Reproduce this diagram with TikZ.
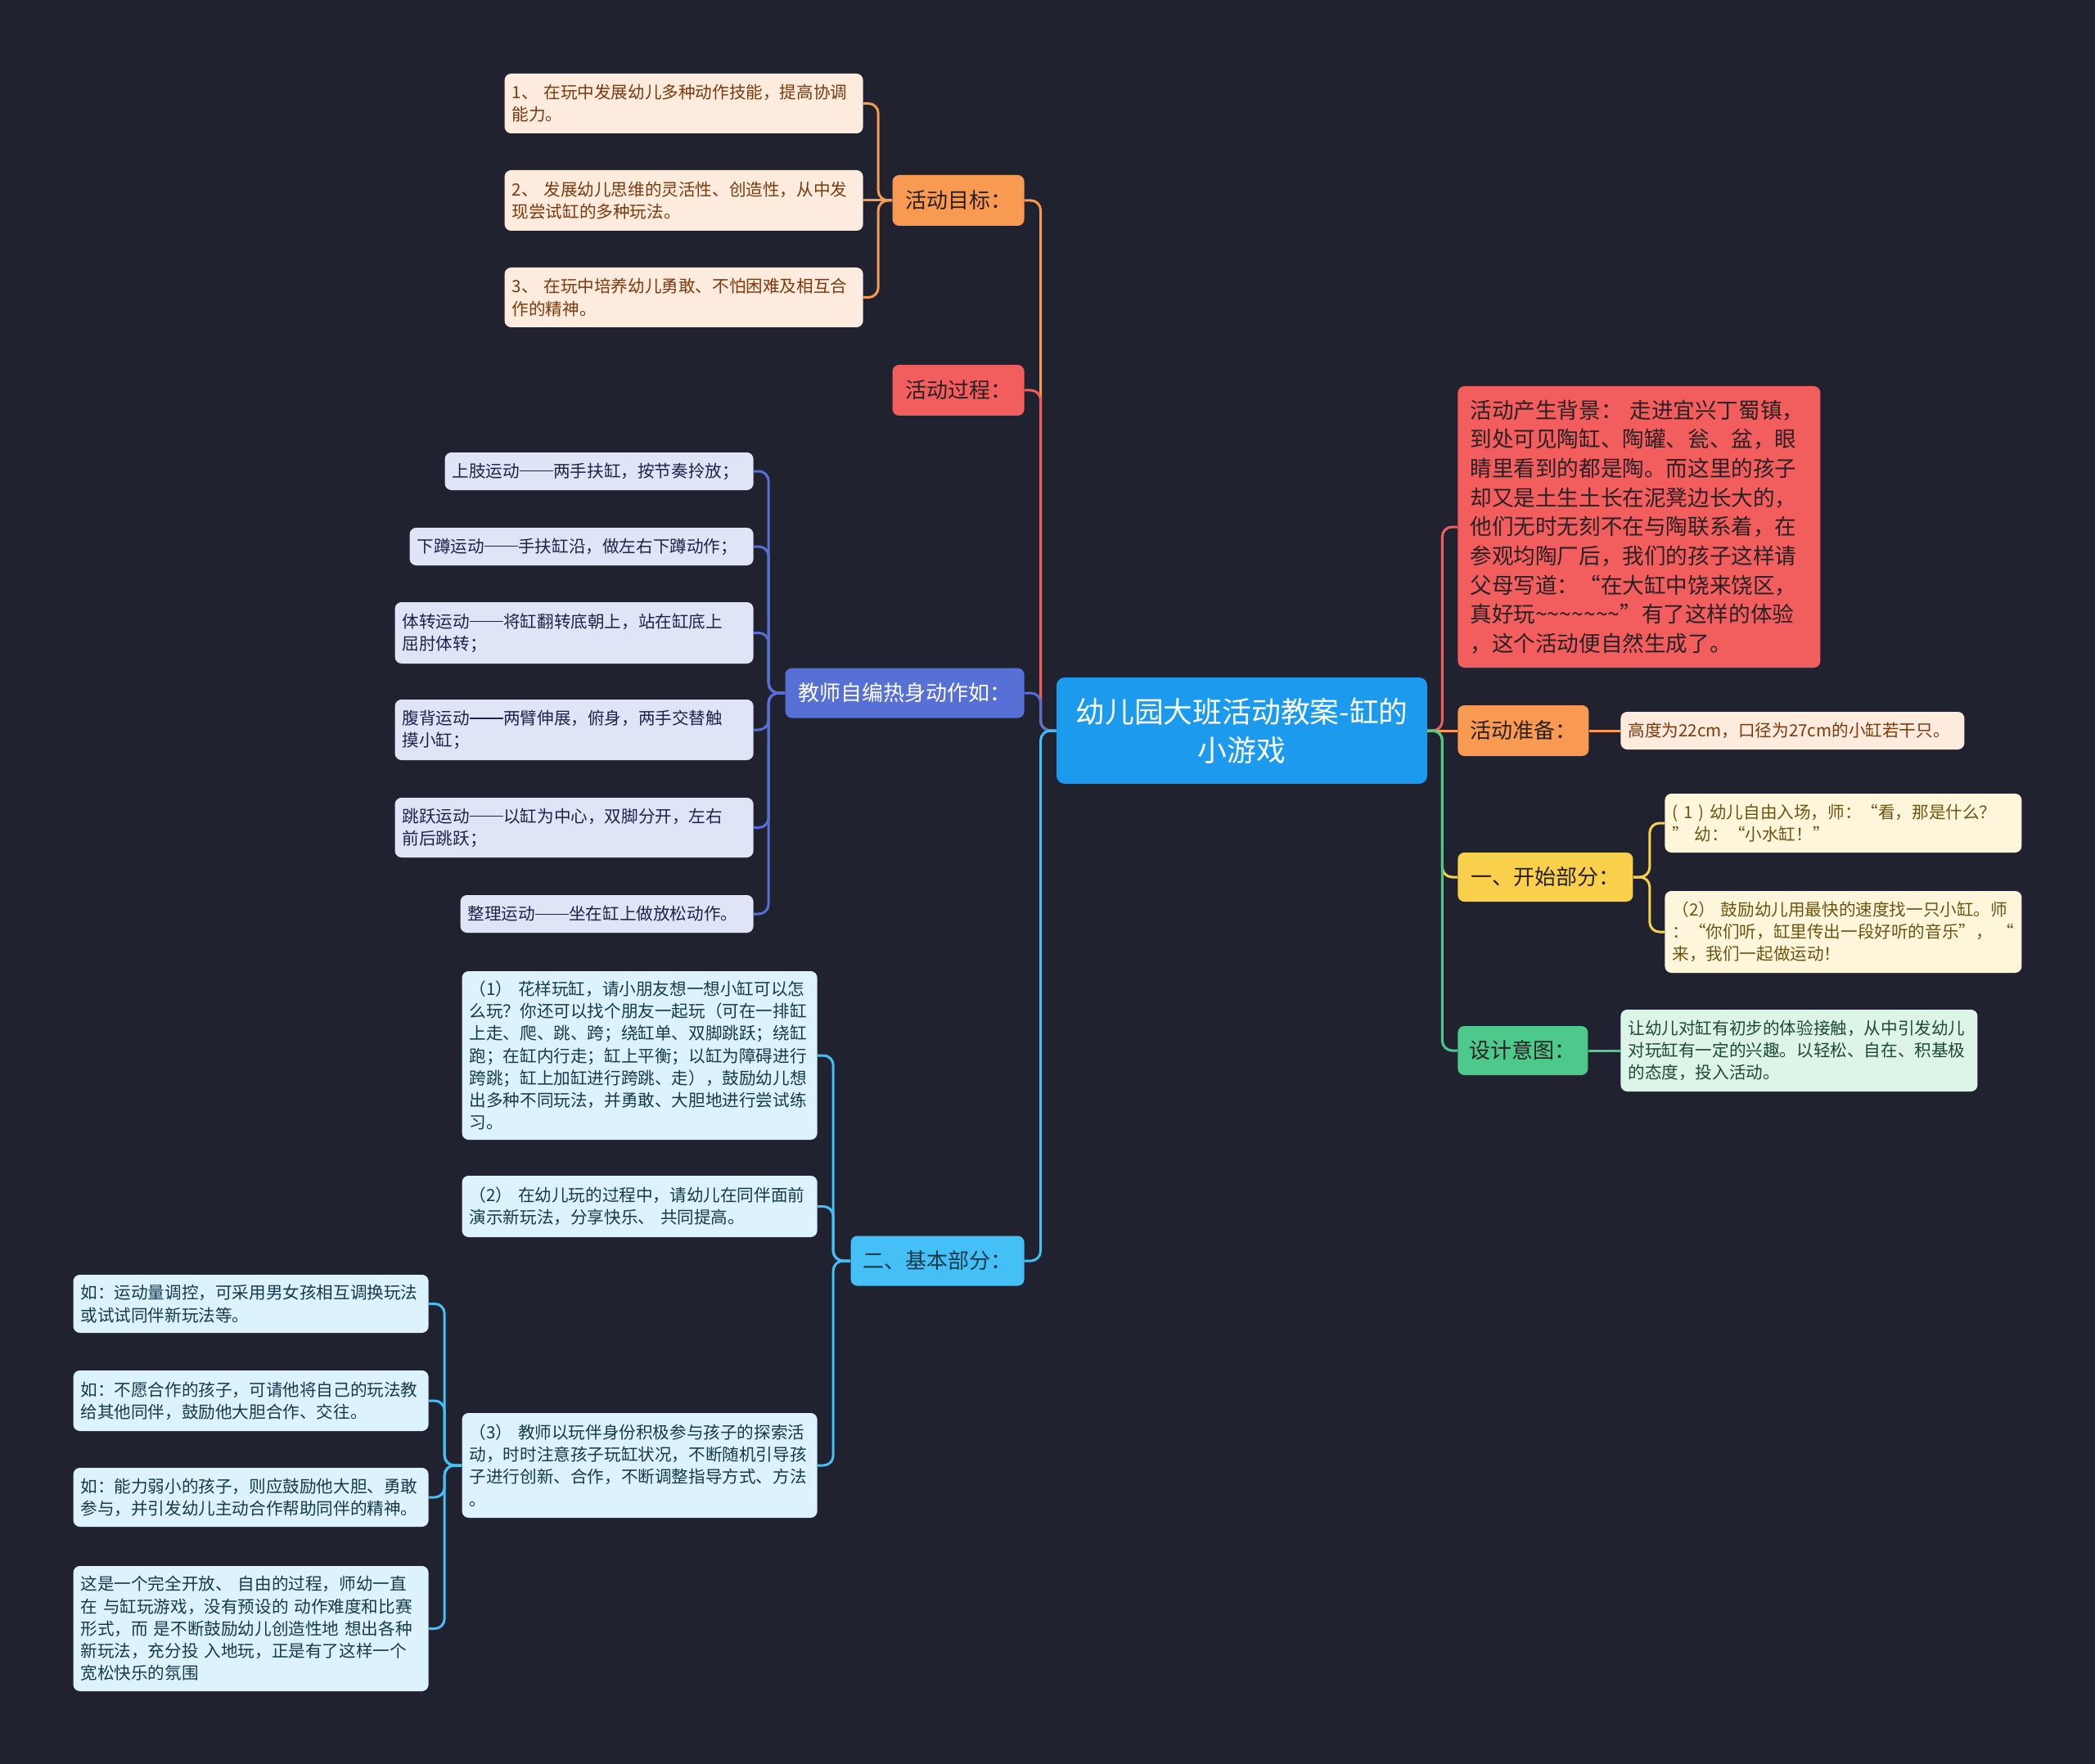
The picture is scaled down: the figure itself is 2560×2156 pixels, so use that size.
\documentclass[tikz,border=0pt]{standalone}
\usepackage{fontspec}
\newfontfamily\cjk{Noto Sans CJK SC}
\usetikzlibrary{positioning,calc}

\definecolor{bgdark}{HTML}{20232F}
\definecolor{rootblue}{HTML}{1B9AEE}
\definecolor{orangeb}{HTML}{F99A52}
\definecolor{redb}{HTML}{F25E5E}
\definecolor{violetb}{HTML}{5670D6}
\definecolor{skyb}{HTML}{45C0F7}
\definecolor{yellowb}{HTML}{F8D04B}
\definecolor{greenb}{HTML}{4DCA8B}
\definecolor{darktext}{HTML}{2A2024}
\definecolor{peachfill}{HTML}{FDEBDD}
\definecolor{peachtext}{HTML}{7A3A0E}
\definecolor{lilacfill}{HTML}{E0E4F7}
\definecolor{lilactext}{HTML}{1F2348}
\definecolor{icefill}{HTML}{DCF3FD}
\definecolor{icetext}{HTML}{163A4B}
\definecolor{creamfill}{HTML}{FEF6DB}
\definecolor{creamtext}{HTML}{6B5512}
\definecolor{mintfill}{HTML}{DDF5E8}
\definecolor{minttext}{HTML}{1D4A33}

% full-width double dash
\newcommand\longdash{\rule[0.33em]{2em}{0.06em}}

\begin{document}
\begin{tikzpicture}[
  x=0.5pt, y=-0.5pt,
  font=\cjk,
  branch/.style={rounded corners=4pt, align=center, inner sep=0pt, text=darktext, font=\cjk\fontsize{13}{17}\selectfont},
  leaf/.style={rounded corners=4pt, align=left, inner xsep=4.5pt, inner ysep=0pt, font=\cjk\fontsize{10.3}{13.6}\selectfont},
  goalleaf/.style={leaf, fill=peachfill, text=peachtext},
  warmleaf/.style={leaf, fill=lilacfill, text=lilactext},
  basicleaf/.style={leaf, fill=icefill, text=icetext},
  startleaf/.style={leaf, fill=creamfill, text=creamtext},
  designleaf/.style={leaf, fill=mintfill, text=minttext},
  link/.style={line width=1.5pt, rounded corners=6pt}
]
\fill[bgdark] (0,0) rectangle (2560,2156);

% centre
\node[fill=rootblue, text=white, rounded corners=5pt, align=center, minimum width=226.5pt, minimum height=65pt, inner sep=0pt, font=\cjk\fontsize{17.9}{23.5}\selectfont] (root) at (1517.5,893) {幼儿园大班活动教案-缸的\\小游戏};

% left branches
\node[branch, fill=orangeb, minimum width=80.5pt, minimum height=31pt, anchor=east] (goals) at (1252,245) {活动目标：};
\node[branch, fill=redb, minimum width=80.5pt, minimum height=31pt, anchor=east] (process) at (1252,477) {活动过程：};
\node[branch, fill=violetb, text=white, minimum width=146pt, minimum height=30.5pt, anchor=east] (warmup) at (1252,847) {教师自编热身动作如：};
\node[branch, fill=skyb, text=icetext, minimum width=106pt, minimum height=30.5pt, anchor=east] (basic) at (1252,1541) {二、基本部分：};

% right branches
\node[rounded corners=4pt, fill=redb, text=darktext, align=left, inner xsep=7.5pt, inner ysep=0pt, text width=206.5pt, minimum height=172pt, anchor=west, font=\cjk\fontsize{13.3}{17.85}\selectfont] (backgr) at (1781,644) {活动产生背景：~走进宜兴丁蜀镇，\\到处可见陶缸、陶罐、瓮、盆，眼\\睛里看到的都是陶。而这里的孩子\\却又是土生土长在泥凳边长大的，\\他们无时无刻不在与陶联系着，在\\参观均陶厂后，我们的孩子这样请\\父母写道：“在大缸中饶来饶区，\\真好玩\textasciitilde\textasciitilde\textasciitilde\textasciitilde\textasciitilde\textasciitilde\textasciitilde”有了这样的体验\\，这个活动便自然生成了。};
\node[branch, fill=orangeb, minimum width=80pt, minimum height=31pt, anchor=west] (prep) at (1781,893) {活动准备：};
\node[branch, fill=yellowb, minimum width=107pt, minimum height=30pt, anchor=west] (start) at (1781,1072) {一、开始部分：};
\node[branch, fill=greenb, minimum width=79.5pt, minimum height=30pt, anchor=west] (design) at (1781,1284) {设计意图：};

% goals
\node[goalleaf, text width=210pt, minimum height=36.5pt, anchor=east] (g1) at (1055,126.5) {1、~在玩中发展幼儿多种动作技能，提高协调\\能力。};
\node[goalleaf, text width=210pt, minimum height=37pt, anchor=east] (g2) at (1055,245) {2、~发展幼儿思维的灵活性、创造性，从中发\\现尝试缸的多种玩法。};
\node[goalleaf, text width=210pt, minimum height=36.5pt, anchor=east] (g3) at (1055,363.5) {3、~在玩中培养幼儿勇敢、不怕困难及相互合\\作的精神。};

% warm-up
\node[warmleaf, text width=179.5pt, minimum height=23pt, anchor=east] (w1) at (921,576) {上肢运动\longdash 两手扶缸，按节奏拎放；};
\node[warmleaf, text width=201pt, minimum height=23pt, anchor=east] (w2) at (921,668) {下蹲运动\longdash 手扶缸沿，做左右下蹲动作；};
\node[warmleaf, text width=210pt, minimum height=37.5pt, anchor=east] (w3) at (921,773.5) {体转运动\longdash 将缸翻转底朝上，站在缸底上\\屈肘体转；};
\node[warmleaf, text width=210pt, minimum height=37pt, anchor=east] (w4) at (921,892) {腹背运动\longdash 两臂伸展，俯身，两手交替触\\摸小缸；};
\node[warmleaf, text width=210pt, minimum height=36.5pt, anchor=east] (w5) at (921,1011.5) {跳跃运动\longdash 以缸为中心，双脚分开，左右\\前后跳跃；};
\node[warmleaf, text width=170pt, minimum height=23pt, anchor=east] (w6) at (921,1117) {整理运动\longdash 坐在缸上做放松动作。};

% basic part
\node[basicleaf, text width=208pt, minimum height=103pt, anchor=east] (b1) at (999,1290) {（1）~花样玩缸，请小朋友想一想小缸可以怎\\么玩？你还可以找个朋友一起玩（可在一排缸\\上走、爬、跳、跨；绕缸单、双脚跳跃；绕缸\\跑；在缸内行走；缸上平衡；以缸为障碍进行\\跨跳；缸上加缸进行跨跳、走），鼓励幼儿想\\出多种不同玩法，并勇敢、大胆地进行尝试练\\习。};
\node[basicleaf, text width=208pt, minimum height=37.5pt, anchor=east] (b2) at (999,1474.5) {（2）~在幼儿玩的过程中，请幼儿在同伴面前\\演示新玩法，分享快乐、~共同提高。};
\node[basicleaf, text width=208pt, minimum height=64pt, anchor=east] (b3) at (999,1791) {（3）~教师以玩伴身份积极参与孩子的探索活\\动，时时注意孩子玩缸状况，不断随机引导孩\\子进行创新、合作，不断调整指导方式、方法\\。};

\node[basicleaf, text width=208pt, minimum height=35.5pt, anchor=east] (c1) at (524,1593.5) {如：运动量调控，可采用男女孩相互调换玩法\\或试试同伴新玩法等。};
\node[basicleaf, text width=208pt, minimum height=37pt, anchor=east] (c2) at (524,1712) {如：不愿合作的孩子，可请他将自己的玩法教\\给其他同伴，鼓励他大胆合作、交往。};
\node[basicleaf, text width=208pt, minimum height=36pt, anchor=east] (c3) at (524,1830) {如：能力弱小的孩子，则应鼓励他大胆、勇敢\\参与，并引发幼儿主动合作帮助同伴的精神。};
\node[basicleaf, text width=208pt, minimum height=76.5pt, anchor=east] (c4) at (524,1990.5) {这是一个完全开放、~自由的过程，师幼一直\\在~与缸玩游戏，没有预设的~动作难度和比赛\\形式，而~是不断鼓励幼儿创造性地~想出各种\\新玩法，充分投~入地玩，正是有了这样一个\\宽松快乐的氛围};

% right leaves
\node[goalleaf, text width=201pt, minimum height=23pt, anchor=west] (prepleaf) at (1980,893) {高度为22cm，口径为27cm的小缸若干只。};
\node[startleaf, text width=209pt, minimum height=36pt, anchor=west] (s1) at (2034,1006) {(~1~)~幼儿自由入场，师：“看，那是什么？\\”~幼：“小水缸！”};
\node[startleaf, text width=209pt, minimum height=50pt, anchor=west] (s2) at (2034,1139) {（2）~鼓励幼儿用最快的速度找一只小缸。师\\：“你们听，缸里传出一段好听的音乐”，\hfill“\\来，我们一起做运动！};
\node[designleaf, text width=209pt, minimum height=50pt, anchor=west] (dleaf) at (1980,1284) {让幼儿对缸有初步的体验接触，从中引发幼儿\\对玩缸有一定的兴趣。以轻松、自在、积基极\\的态度，投入活动。};

% trunk, left
\draw[link, orangeb] (root.west) -- ++(-19,0) |- (goals.east);
\draw[link, redb] (root.west) -- ++(-19,0) |- (process.east);
\draw[link, violetb] (root.west) -- ++(-19,0) |- (warmup.east);
\draw[link, skyb] (root.west) -- ++(-19,0) |- (basic.east);

% trunk, right
\draw[link, redb] (root.east) -- ++(18,0) |- (backgr.west);
\draw[link, orangeb] (root.east) -- (prep.west);
\draw[link, yellowb] (root.east) -- ++(18,0) |- (start.west);
\draw[link, greenb] (root.east) -- ++(18,0) |- (design.west);

% goals
\draw[link, orangeb] (goals.west) -- ++(-17,0) |- (g1.east);
\draw[link, orangeb] (goals.west) -- (g2.east);
\draw[link, orangeb] (goals.west) -- ++(-17,0) |- (g3.east);

% warm-up
\draw[link, violetb] (warmup.west) -- ++(-20,0) |- (w1.east);
\draw[link, violetb] (warmup.west) -- ++(-20,0) |- (w2.east);
\draw[link, violetb] (warmup.west) -- ++(-20,0) |- (w3.east);
\draw[link, violetb] (warmup.west) -- ++(-20,0) |- (w4.east);
\draw[link, violetb] (warmup.west) -- ++(-20,0) |- (w5.east);
\draw[link, violetb] (warmup.west) -- ++(-20,0) |- (w6.east);

% basic part
\draw[link, skyb] (basic.west) -- ++(-21,0) |- (b1.east);
\draw[link, skyb] (basic.west) -- ++(-21,0) |- (b2.east);
\draw[link, skyb] (basic.west) -- ++(-21,0) |- (b3.east);
\draw[link, skyb] (b3.west) -- ++(-21,0) |- (c1.east);
\draw[link, skyb] (b3.west) -- ++(-21,0) |- (c2.east);
\draw[link, skyb] (b3.west) -- ++(-21,0) |- (c3.east);
\draw[link, skyb] (b3.west) -- ++(-21,0) |- (c4.east);

% right leaves
\draw[link, orangeb] (prep.east) -- (prepleaf.west);
\draw[link, yellowb] (start.east) -- ++(20,0) |- (s1.west);
\draw[link, yellowb] (start.east) -- ++(20,0) |- (s2.west);
\draw[link, greenb] (design.east) -- (dleaf.west);

\end{tikzpicture}
\end{document}
